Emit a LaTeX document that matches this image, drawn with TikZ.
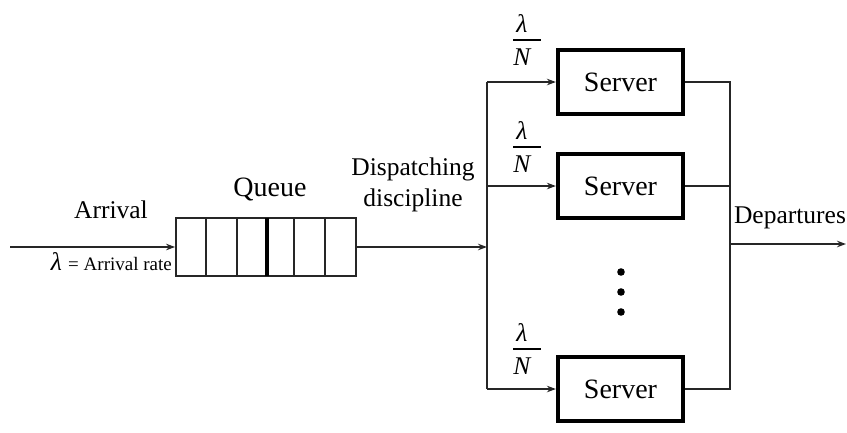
\documentclass[tikz,border=0pt]{standalone}
\usepackage{fontspec}
\setmainfont{Liberation Serif}
\usetikzlibrary{arrows.meta}
\begin{document}
\begin{tikzpicture}[x=1pt,y=-1pt,
  line/.style={draw=black!85,line width=1.8pt},
  arr/.style={line,-{Stealth[length=9pt,width=6.5pt]}},
  server/.style={draw=black,line width=4.2pt,minimum width=125pt,minimum height=64pt,inner sep=0pt,font=\fontsize{28}{30}\selectfont},
  lbl/.style={inner sep=0pt,font=\fontsize{25.5}{28}\selectfont},
  frac/.style={inner sep=0pt,font=\fontsize{25.5}{28}\selectfont\itshape}]
\useasboundingbox (0,0) rectangle (847,432);
% queue
\node[draw=black!85,line width=1.8pt,minimum width=180pt,minimum height=58pt,inner sep=0pt] (q) at (266,247) {};
\foreach \xx in {206,237,294,325} \draw[line] (\xx,218) -- (\xx,276);
\draw[draw=black,line width=3.2pt] (267,218) -- (267,276);
% servers
\node[server] (s1) at (620.5,82) {Server};
\node[server] (s2) at (620.5,186) {Server};
\node[server] (s3) at (620.5,389) {Server};
% coordinates
\coordinate (a0) at (10,247);
\coordinate (sp) at (487,247);
\coordinate (t1) at (487,82);
\coordinate (t2) at (487,186);
\coordinate (t3) at (487,389);
\coordinate (r1) at (730,82);
\coordinate (r2) at (730,186);
\coordinate (r3) at (730,389);
\coordinate (d0) at (730,244);
\coordinate (d1) at (846,244);
% connectors
\draw[arr] (a0) -- (q.west);
\draw[arr] (q.east) -- (sp);
\draw[line] (t1) -- (t3);
\draw[arr] (t1) -- (s1.west);
\draw[arr] (t2) -- (s2.west);
\draw[arr] (t3) -- (s3.west);
\draw[line] (s1.east) -- (r1) -- (r3) -- (s3.east);
\draw[line] (s2.east) -- (r2);
\draw[arr] (d0) -- (d1);
% labels
\node[lbl] (arrival) at (111,210) {Arrival};
\node[lbl,anchor=east] (rate) at (172,262) {\textit{λ} {\fontsize{19}{22}\selectfont = Arrival rate}};
\node[lbl,font=\fontsize{28}{30}\selectfont] (queue) at (270,189) {Queue};
\node[lbl,align=center] (disp) at (413,185) {Dispatching\\[3pt]discipline};
\node[lbl] (dep) at (790,218) {Departures};
% lambda / N
\foreach \yy/\nm in {40/f1,147/f2,349/f3}{
  \node[frac] (\nm l) at (522,\yy-16) {λ};
  \node[frac] (\nm n) at (522,\yy+17) {N};
  \draw[line width=1.6pt] (\nm l.south west |- 0,\yy) ++(-3,0) -- ++(28,0);
}
% dots
\foreach \yy in {272,292,312} \fill (621,\yy) circle (3.8pt);
\end{tikzpicture}
\end{document}
